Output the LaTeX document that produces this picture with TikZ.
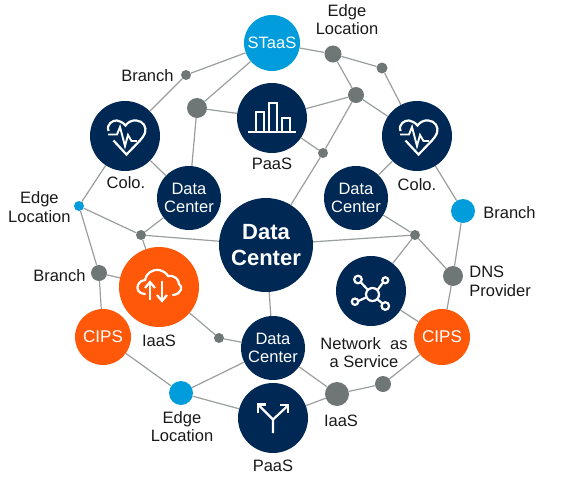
\documentclass[tikz,border=0pt]{standalone}
\usepackage{fontspec}
\setmainfont{Liberation Sans}
\usetikzlibrary{positioning}
\definecolor{navy}{HTML}{002855}
\definecolor{sky}{HTML}{009CDC}
\definecolor{flame}{HTML}{FF5808}
\definecolor{slate}{HTML}{6F7776}
\definecolor{wire}{HTML}{9A9E9E}
\tikzset{
  hub/.style={circle, inner sep=0pt, minimum size=#1, text=white, align=center, font=\fontsize{16.5}{19}\selectfont},
  dark/.style={hub=#1, fill=navy},
  cyan/.style={hub=#1, fill=sky},
  hot/.style={hub=#1, fill=flame},
  dot/.style={hub=#1, fill=slate},
  caption/.style={inner sep=0pt, align=center, text=black!90, font=\fontsize{16.5}{18.5}\selectfont},
  link/.style={draw=wire, line width=1.2pt},
  glyph/.style={draw=white, line width=2.2pt, line join=miter},
  heartglyph/.pic={
    \draw [glyph] (-16.5,-5) .. controls (-19,-12) and (-12,-16) .. (-8,-15.5) .. controls (-5,-15) and (-2,-13.5) .. (0.5,-10.5)
      .. controls (3,-14) and (7,-16) .. (11.5,-15.5) .. controls (18,-15) and (22,-9) .. (20,-3) .. controls (19,0) and (17,2) .. (15,4.5) -- (1.5,18.5) -- (-11.5,4.5);
    \draw [glyph, line width=1.9pt] (-17,-1.5) -- (-8,-1.5) -- (-5,-9) -- (0,10) -- (3,-1) -- (6.5,5) -- (12,5);
  },
  barsglyph/.pic={
    \draw [glyph] (-24,14) -- (24,14);
    \draw [glyph, line width=2pt] (-16.5,14) -- (-16.5,-6) -- (-8.5,-6) -- (-8.5,14);
    \draw [glyph, line width=2pt] (-3.5,14) -- (-3.5,-15.5) -- (5,-15.5) -- (5,14);
    \draw [glyph, line width=2pt] (9.5,14) -- (9.5,0) -- (17.5,0) -- (17.5,14);
  },
  cloudglyph/.pic={
    \draw [glyph, line cap=round] (-14,7) .. controls (-20,7) and (-23,2) .. (-21,-2) .. controls (-19,-6) and (-16,-7) .. (-14,-7)
      .. controls (-13,-14) and (-6,-18) .. (0,-17) .. controls (5,-16) and (8,-13) .. (9,-11)
      .. controls (15,-12) and (20,-8) .. (20,-3) .. controls (24,-1) and (23,7) .. (14,8);
    \draw [glyph] (-9,13) -- (-9,-4);
    \draw [glyph] (-14,1) -- (-9,-5) -- (-4,1);
    \draw [glyph] (3,-6) -- (3,14);
    \draw [glyph] (-2,8) -- (3,14) -- (8,8);
  },
  networkglyph/.pic={
    \draw [glyph] (1.5,3.5) circle [radius=6.5];
    \draw [glyph] (-13,-11.5) circle [radius=3.8];
    \draw [glyph] (14.3,-10.7) circle [radius=3];
    \draw [glyph] (-16,10.7) circle [radius=3.2];
    \draw [glyph] (14.3,15) circle [radius=3.8];
    \draw [glyph] (-10,-8.5) -- (-3,-1);
    \draw [glyph] (12,-8.5) -- (6.5,-1);
    \draw [glyph] (-12.7,10) -- (-5,6.5);
    \draw [glyph] (11.5,12.5) -- (6,8);
  },
  forkglyph/.pic={
    \draw [glyph] (0,15) -- (0,1.5) -- (-14,-12.5);
    \draw [glyph] (0,1.5) -- (14,-11.5);
    \draw [glyph] (-15,-5.5) -- (-15,-13.5) -- (-7,-13.5);
    \draw [glyph] (7,-13) -- (15,-13) -- (15,-5);
  }
}

\begin{document}
\begin{tikzpicture}[x=1pt, y=-1pt]
  \useasboundingbox (0,0) rectangle (566,480);

  % large circles
  \node (staas) [cyan=56pt] at (272,43) {STaaS};
  \node (paastop) [dark=70pt] at (272,118) {};
  \node (cololeft) [dark=70pt] at (125,136) {};
  \node (coloright) [dark=70pt] at (417,136) {};
  \node (dcleft) [dark=64pt] at (189,198) {Data\\[-1pt]Center};
  \node (dcright) [dark=64pt] at (356,198) {Data\\[-1pt]Center};
  \node (dcmain) [dark=94pt, font=\fontsize{22}{26}\selectfont\bfseries] at (266,245) {Data\\Center};
  \node (dcbottom) [dark=64pt] at (273,348) {Data\\[-1pt]Center};
  \node (iaasicon) [hot=80pt] at (159,287) {};
  \node (network) [dark=70pt] at (371,291) {};
  \node (cipsleft) [hot=56pt, font=\fontsize{17}{19}\selectfont] at (103,337) {CIPS};
  \node (cipsright) [hot=56pt, font=\fontsize{17}{19}\selectfont] at (442,337) {CIPS};
  \node (paasbottom) [dark=70pt] at (273,418) {};

  % small circles
  \node (edgetop) [dot=17pt] at (333,54) {};
  \node (relayne) [dot=11pt] at (382,68) {};
  \node (relayn) [dot=16pt] at (356,95) {};
  \node (relaymid) [dot=10pt] at (323,153) {};
  \node (branchtop) [dot=10pt] at (186,75) {};
  \node (relaynw) [dot=20pt] at (197,108) {};
  \node (edgeleft) [cyan=10pt] at (79,206) {};
  \node (relayw) [dot=10pt] at (141,235) {};
  \node (relaye) [dot=10pt] at (415,235) {};
  \node (branchright) [cyan=24pt] at (463,211) {};
  \node (dns) [dot=20pt] at (453,276) {};
  \node (branchleft) [dot=16pt] at (99,273) {};
  \node (relaysw) [dot=10pt] at (219,338) {};
  \node (edgebottom) [cyan=24pt] at (181,393) {};
  \node (iaassmall) [dot=24pt] at (337,394) {};
  \node (relayse) [dot=16pt] at (383,384) {};

  % captions
  \node (lbledgetop) [caption, above=10pt of edgetop, xshift=14pt] {Edge\\Location};
  \node (lblbranchtop) [caption, left=7pt of branchtop, yshift=-1pt] {Branch};
  \node (lblcololeft) [caption, below=5.5pt of cololeft, xshift=1pt] {Colo.};
  \node (lblcoloright) [caption, below=7pt of coloright] {Colo.};
  \node (lblpaastop) [caption, below=5pt of paastop] {PaaS};
  \node (lbledgeleft) [caption, left=3pt of edgeleft, yshift=-1pt] {Edge\\Location};
  \node (lblbranchright) [caption, right=8pt of branchright, yshift=-1.5pt] {Branch};
  \node (lblbranchleft) [caption, left=5pt of branchleft, yshift=-3pt] {Branch};
  \node (lbliaasicon) [caption, below=8pt of iaasicon] {IaaS};
  \node (lbldns) [caption, right=6pt of dns, yshift=-5.5pt, align=left] {DNS\\Provider};
  \node (lblnetwork) [caption, below=11pt of network, xshift=-7pt] {Network\ \ as\\a Service};
  \node (lbledgebottom) [caption, below=6pt of edgebottom, xshift=1pt] {Edge\\Location};
  \node (lbliaassmall) [caption, below=9pt of iaassmall, xshift=4pt] {IaaS};
  \node (lblpaasbottom) [caption, below=7pt of paasbottom] {PaaS};

  % icons
  \pic at (cololeft) {heartglyph};
  \pic at (coloright) {heartglyph};
  \pic at (paastop) {barsglyph};
  \pic at (iaasicon) {cloudglyph};
  \pic at (network) {networkglyph};
  \pic at (paasbottom) {forkglyph};

  % connectors
  \draw [link] (staas) -- (branchtop);
  \draw [link] (staas) -- (relaynw);
  \draw [link] (staas) -- (edgetop);
  \draw [link] (branchtop) -- (cololeft);
  \draw [link] (relaynw) -- (paastop);
  \draw [link] (relaynw) -- (dcleft);
  \draw [link] (cololeft) -- (dcleft);
  \draw [link] (cololeft) -- (edgeleft);
  \draw [link] (edgeleft) -- (relayw);
  \draw [link] (edgeleft) -- (branchleft);
  \draw [link] (dcleft) -- (relayw);
  \draw [link] (relayw) -- (dcmain);
  \draw [link] (relayw) -- (iaasicon);
  \draw [link] (branchleft) -- (iaasicon);
  \draw [link] (branchleft) -- (cipsleft);
  \draw [link] (iaasicon) -- (relaysw);
  \draw [link] (relaysw) -- (dcbottom);
  \draw [link] (cipsleft) -- (edgebottom);
  \draw [link] (edgebottom) -- (dcbottom);
  \draw [link] (edgebottom) -- (paasbottom);
  \draw [link] (dcmain) -- (dcbottom);
  \draw [link] (dcbottom) -- (iaassmall);
  \draw [link] (paasbottom) -- (iaassmall);
  \draw [link] (iaassmall) -- (relayse);
  \draw [link] (relayse) -- (cipsright);
  \draw [link] (network) -- (cipsright);
  \draw [link] (network) -- (relaye);
  \draw [link] (relaye) -- (dcmain);
  \draw [link] (relaye) -- (dns);
  \draw [link] (relaye) -- (dcright);
  \draw [link] (dns) -- (cipsright);
  \draw [link] (dns) -- (branchright);
  \draw [link] (branchright) -- (coloright);
  \draw [link] (coloright) -- (dcright);
  \draw [link] (coloright) -- (relayn);
  \draw [link] (coloright) -- (relayne);
  \draw [link] (relayne) -- (edgetop);
  \draw [link] (edgetop) -- (relayn);
  \draw [link] (relayn) -- (paastop);
  \draw [link] (relayn) -- (relaymid);
  \draw [link] (relaymid) -- (dcmain);
  \draw [link] (relaymid) -- (paastop);

\end{tikzpicture}
\end{document}
